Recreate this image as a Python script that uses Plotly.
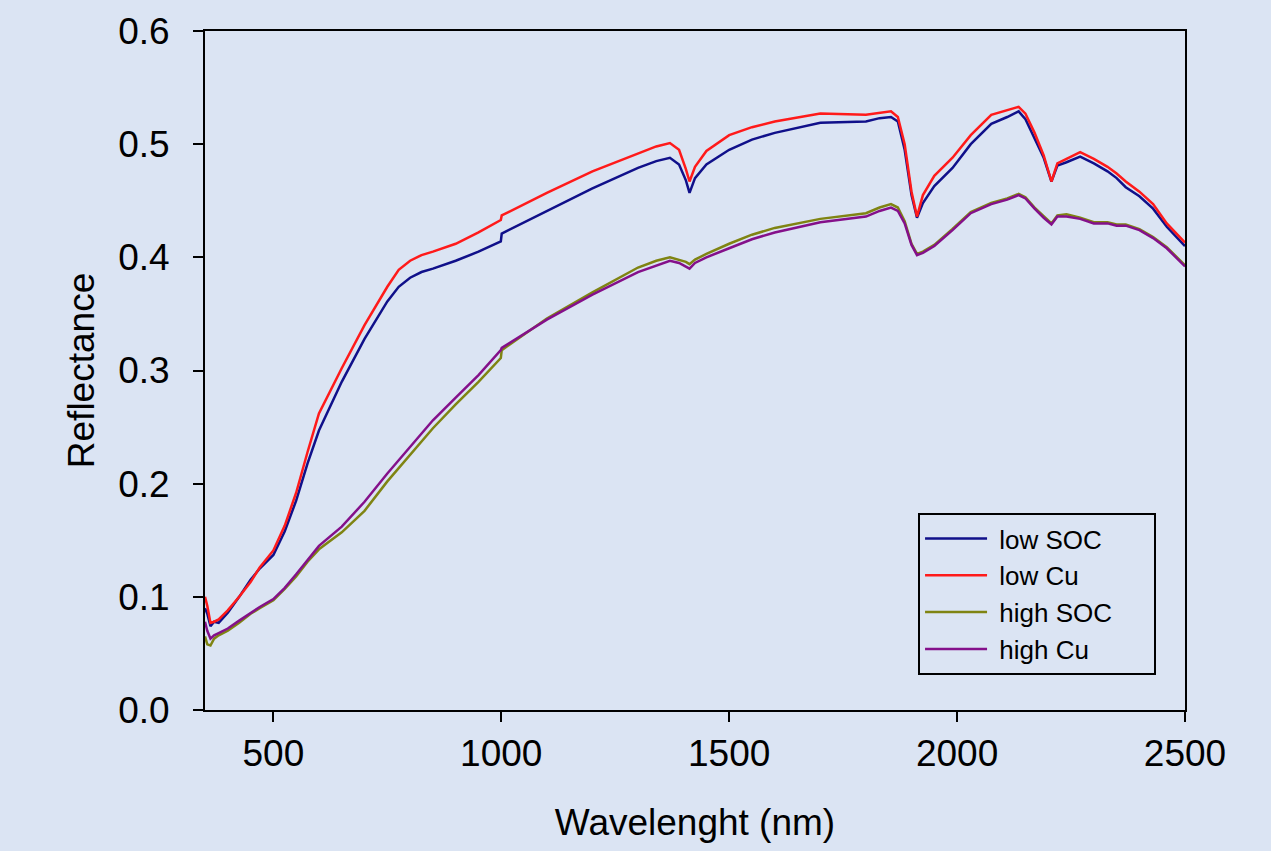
import plotly.graph_objects as go

wavelength = [350, 355, 362, 370, 380, 400, 425, 450, 470, 500, 525, 550, 575, 600, 650, 700, 750, 775, 800,
              825, 850, 900, 950, 999, 1001, 1100, 1200, 1300, 1340, 1370, 1390, 1405, 1413, 1425, 1450, 1500,
              1550, 1600, 1700, 1800, 1830, 1855, 1870, 1885, 1900, 1912, 1925, 1950, 1990, 2030, 2075,
              2110, 2135, 2150, 2170, 2190, 2207, 2220, 2240, 2270, 2300, 2330, 2350, 2370, 2400, 2430,
              2460, 2500]

low_soc = [0.090, 0.085, 0.074, 0.078, 0.077, 0.086, 0.100, 0.115, 0.125, 0.137, 0.158, 0.185, 0.218, 0.247,
           0.290, 0.328, 0.361, 0.374, 0.382, 0.387, 0.390, 0.397, 0.405, 0.414, 0.421, 0.441, 0.461, 0.479,
           0.485, 0.488, 0.482, 0.468, 0.457, 0.470, 0.482, 0.495, 0.504, 0.510, 0.519, 0.520, 0.523, 0.524,
           0.520, 0.495, 0.455, 0.435, 0.448, 0.463, 0.479, 0.500, 0.518, 0.524, 0.529, 0.522, 0.505, 0.488,
           0.467, 0.481, 0.484, 0.489, 0.483, 0.476, 0.470, 0.462, 0.454, 0.443, 0.427, 0.410]

low_cu = [0.100, 0.092, 0.077, 0.078, 0.080, 0.088, 0.100, 0.113, 0.126, 0.141, 0.163, 0.192, 0.228, 0.262,
          0.302, 0.340, 0.374, 0.389, 0.397, 0.402, 0.405, 0.412, 0.422, 0.433, 0.437, 0.457, 0.476, 0.492,
          0.498, 0.501, 0.495, 0.478, 0.467, 0.480, 0.494, 0.508, 0.515, 0.520, 0.527, 0.526, 0.528, 0.529,
          0.524, 0.500, 0.458, 0.436, 0.455, 0.472, 0.488, 0.508, 0.526, 0.530, 0.533, 0.527, 0.510, 0.490,
          0.467, 0.483, 0.487, 0.493, 0.487, 0.480, 0.474, 0.467, 0.458, 0.447, 0.430, 0.413]

high_soc = [0.065, 0.058, 0.057, 0.063, 0.066, 0.070, 0.077, 0.085, 0.090, 0.097, 0.107, 0.118, 0.131, 0.142,
            0.157, 0.176, 0.202, 0.214, 0.226, 0.238, 0.249, 0.270, 0.290, 0.311, 0.318, 0.346, 0.369, 0.391,
            0.397, 0.400, 0.398, 0.396, 0.394, 0.398, 0.403, 0.412, 0.420, 0.426, 0.434, 0.439, 0.444, 0.447,
            0.444, 0.432, 0.412, 0.403, 0.405, 0.411, 0.425, 0.440, 0.448, 0.452, 0.456, 0.453, 0.444, 0.436,
            0.430, 0.437, 0.438, 0.435, 0.431, 0.431, 0.429, 0.429, 0.425, 0.418, 0.409, 0.393]

high_cu = [0.078, 0.070, 0.063, 0.066, 0.068, 0.072, 0.079, 0.086, 0.091, 0.098, 0.108, 0.120, 0.133, 0.145,
           0.162, 0.184, 0.209, 0.221, 0.233, 0.245, 0.256, 0.276, 0.296, 0.318, 0.320, 0.345, 0.367, 0.387,
           0.393, 0.397, 0.395, 0.392, 0.390, 0.395, 0.400, 0.408, 0.416, 0.422, 0.431, 0.436, 0.441, 0.444,
           0.441, 0.430, 0.411, 0.402, 0.404, 0.410, 0.424, 0.439, 0.447, 0.451, 0.455, 0.452, 0.443, 0.435,
           0.429, 0.436, 0.436, 0.434, 0.430, 0.430, 0.428, 0.428, 0.424, 0.417, 0.408, 0.392]

series_names = ["low SOC", "low Cu", "high SOC", "high Cu"]
series_values = [low_soc, low_cu, high_soc, high_cu]
series_colors = ["#10108a", "#ff1a1a", "#7f8412", "#84108a"]

x_ticks = [500, 1000, 1500, 2000, 2500]
y_ticks = [0.0, 0.1, 0.2, 0.3, 0.4, 0.5, 0.6]

bg = "#dbe4f3"
font_family = "Liberation Sans, Arial, sans-serif"
NBSP = "\u00a0"

fig = go.Figure()
for name, vals, color in zip(series_names, series_values, series_colors):
    fig.add_trace(go.Scatter(x=wavelength, y=vals, mode="lines",
                             name=NBSP + name + NBSP * 5,
                             line=dict(color=color, width=2.5)))

fig.update_layout(
    width=1271, height=851,
    paper_bgcolor=bg, plot_bgcolor=bg,
    margin=dict(l=205, r=86, t=31, b=141),
    font=dict(family=font_family, color="black", size=37),
    showlegend=True,
    legend=dict(x=0.7276, y=0.290, xanchor="left", yanchor="top",
                bgcolor="rgba(0,0,0,0)", bordercolor="black", borderwidth=2,
                font=dict(size=26, family=font_family), itemwidth=62,
                tracegroupgap=0),
)
fig.update_xaxes(
    range=[350, 2500], tickvals=x_ticks, ticks="outside", ticklen=10, tickwidth=2,
    tickcolor="black", showline=True, linecolor="black", linewidth=2, mirror=True,
    showgrid=False, zeroline=False,
    title=dict(text="Wavelenght (nm)", standoff=36, font=dict(size=37)),
    tickfont=dict(size=37), ticklabelstandoff=0,
)
fig.update_yaxes(
    range=[0, 0.6], tickvals=y_ticks, tickformat=".1f", ticks="outside", ticklen=10,
    tickwidth=2, tickcolor="black", showline=True, linecolor="black", linewidth=2,
    mirror=True, showgrid=False, zeroline=False,
    title=dict(text="Reflectance", standoff=12, font=dict(size=37)),
    tickfont=dict(size=37), ticklabelstandoff=16,
)

fig.write_html("out.html", config={"displayModeBar": False},
               post_script="document.body.style.margin='0';document.body.style.background='#dbe4f3';")
